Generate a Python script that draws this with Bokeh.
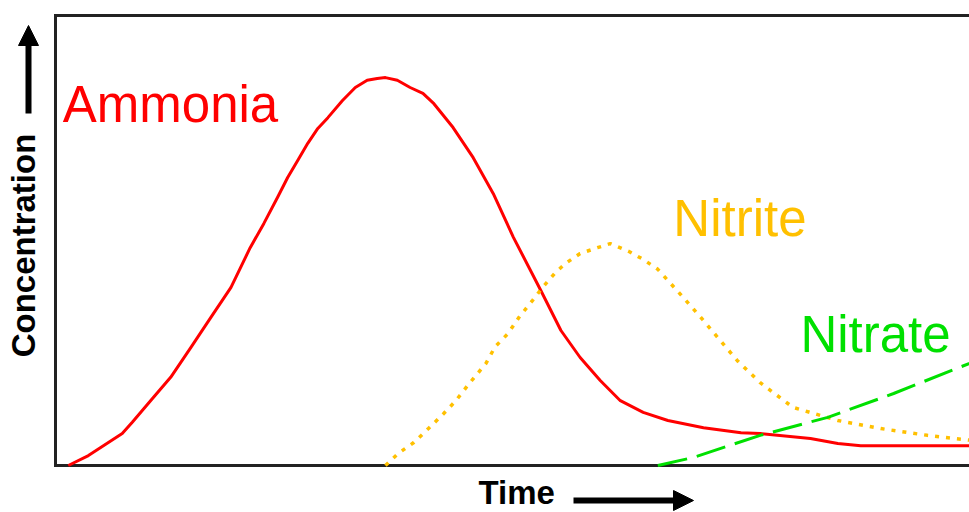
import math
from bokeh.plotting import figure
from bokeh.models import Range1d, Label, Arrow, NormalHead, ColumnDataSource
from bokeh.core.properties import value
from bokeh.embed import file_html
from bokeh.resources import INLINE

# ---- data (time and concentration in arbitrary units, 0-100) ----
ammonia_t = [1.4, 3.6, 7.3, 8.4, 10.4, 12.6, 14.8, 17.0, 19.2, 21.3, 22.8, 24.3, 25.4, 26.5,
             27.6, 28.7, 29.8, 31.4, 32.8, 34.1, 35.2, 36.1, 37.4, 38.8, 40.2, 41.4, 43.5,
             45.7, 47.9, 50.1, 53.1, 55.3, 57.4, 59.6, 61.8, 64.3, 67.0, 70.9, 75.0, 77.1,
             82.6, 85.6, 88.1, 101.0]
ammonia_c = [0.0, 2.2, 7.1, 9.6, 14.4, 19.6, 26.2, 32.9, 39.6, 48.4, 53.8, 59.6, 64.0, 67.8,
             71.6, 74.9, 77.3, 81.1, 84.0, 85.6, 86.0, 86.2, 85.6, 84.0, 82.7, 80.4, 75.1,
             68.4, 60.4, 50.7, 38.9, 30.0, 24.0, 18.9, 14.4, 11.8, 10.0, 8.4, 7.3, 7.1,
             6.0, 4.9, 4.4, 4.4]

nitrite_t = [36.1, 37.5, 39.2, 40.8, 42.5, 43.8, 45.1, 47.1, 48.1, 49.5, 50.7, 52.2, 53.3,
             54.7, 55.8, 57.4, 59.3, 60.7, 62.7, 64.3, 65.9, 68.7, 70.6, 74.6, 77.1, 80.7,
             85.6, 90.3, 95.4, 101.0]
nitrite_c = [0.0, 2.7, 5.1, 8.2, 11.6, 14.4, 17.8, 22.7, 26.4, 29.3, 32.9, 36.7, 39.6,
             42.9, 44.9, 47.1, 48.4, 49.3, 47.6, 45.8, 43.6, 37.3, 32.9, 23.3, 18.4, 12.9,
             10.0, 8.2, 6.7, 5.4]

nitrate_t = [65.9, 69.8, 77.1, 84.5, 91.7, 101.0]
nitrate_c = [0.0, 1.8, 6.7, 10.7, 16.0, 23.5]

species = ["Ammonia", "Nitrite", "Nitrate"]
label_t = [0.8, 67.6, 81.5]
label_c = [76.0, 50.7, 24.9]
colors = ["#FF0000", "#FFC000", "#00E000"]

x_title = "Time"
y_title = "Concentration"

# plot box limits (the right side runs past the visible page)
t_min, t_max = 0.0, 101.0
c_min, c_max = 0.0, 100.0

# ---- layout (pixels) ----
W, H = 969, 512
box_left, box_top, box_bottom = 55, 15, 465
px_per_t = (W - box_left) / 100.0
px_per_c = (box_bottom - box_top) / 100.0

p = figure(width=W, height=H,
           x_range=Range1d(-box_left / px_per_t, (W - box_left) / px_per_t),
           y_range=Range1d(-(H - box_bottom) / px_per_c, 100 + box_top / px_per_c),
           x_axis_type=None, y_axis_type=None, min_border=0,
           output_backend="svg", toolbar_location=None)
p.outline_line_color = None
p.background_fill_color = "white"
p.border_fill_color = "white"

# plot box (left, top and bottom sides)
p.line([t_max, t_min, t_min, t_max], [c_max, c_max, c_min, c_min],
       line_color="#222222", line_width=3, line_join="miter")

p.line(ammonia_t, ammonia_c, line_color=colors[0], line_width=3, line_join="round")
p.line(nitrite_t, nitrite_c, line_color=colors[1], line_width=3.5, line_dash="4 7")
p.line(nitrate_t, nitrate_c, line_color=colors[2], line_width=3, line_dash="30 10")

src = ColumnDataSource(dict(x=label_t, y=label_c, text=species, color=colors))
p.text(x="x", y="y", text="text", text_color="color", source=src,
       text_font=value("Liberation Sans"), text_font_size="51px",
       text_align="left", text_baseline="alphabetic", y_offset=-19)

# axis titles
p.add_layout(Label(x=(478 - box_left) / px_per_t, y=(box_bottom - 492) / px_per_c, text=x_title,
                   text_font="Liberation Sans", text_font_style="bold", text_font_size="33px",
                   text_align="left", text_baseline="alphabetic", text_color="black"))
p.add_layout(Label(x=(23 - box_left) / px_per_t, y=(box_bottom - 245) / px_per_c, text=y_title,
                   angle=math.pi / 2,
                   text_font="Liberation Sans", text_font_style="bold", text_font_size="33px",
                   text_align="center", text_baseline="alphabetic", text_color="black"))

# direction arrows
p.add_layout(Arrow(x_start=(573 - box_left) / px_per_t, y_start=(box_bottom - 500) / px_per_c,
                   x_end=(693 - box_left) / px_per_t, y_end=(box_bottom - 500) / px_per_c,
                   line_width=6, line_color="black",
                   end=NormalHead(size=20, fill_color="black", line_color="black", line_width=1)))
p.add_layout(Arrow(x_start=(28 - box_left) / px_per_t, y_start=(box_bottom - 113) / px_per_c,
                   x_end=(28 - box_left) / px_per_t, y_end=(box_bottom - 25) / px_per_c,
                   line_width=6, line_color="black",
                   end=NormalHead(size=20, fill_color="black", line_color="black", line_width=1)))

open("out.html", "w").write(file_html(p, INLINE))
